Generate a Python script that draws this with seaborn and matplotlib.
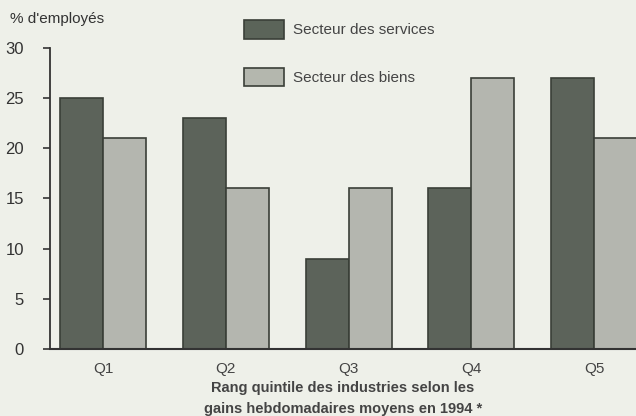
import pandas as pd
import numpy as np
import seaborn as sns
import matplotlib.pyplot as plt
from matplotlib.patches import Patch

quintiles = ['Q1', 'Q2', 'Q3', 'Q4', 'Q5']
services = [25, 23, 9, 16, 27]
biens = [21, 16, 16, 27, 21]
series_names = ['Secteur des services', 'Secteur des biens']

df = pd.DataFrame({
    'Quintile': quintiles * 2,
    'Pct': services + biens,
    'Secteur': [series_names[0]] * 5 + [series_names[1]] * 5,
})

bg = '#eef0e9'
dark = '#5b6459'
light = '#b4b7ae'

sns.set_theme(style='white')
plt.rcParams['font.family'] = ['Liberation Sans', 'DejaVu Sans']

fig = plt.figure(figsize=(6.36, 4.16), dpi=100, facecolor=bg)
ax = fig.add_axes([0.079, 0.161, 0.921, 0.724])
ax.set_facecolor(bg)

sns.barplot(data=df, x='Quintile', y='Pct', hue='Secteur', palette=[dark, light],
            width=0.7, edgecolor='#3a3f38', linewidth=1.2, legend=False, ax=ax)

ax.set_ylim(0, 30)
ax.set_xlim(-0.43, 4.34)
ax.set_yticks(range(0, 31, 5))
ax.tick_params(axis='y', length=5, width=1.2, color='#333333', labelsize=12,
               labelcolor='#333333', left=True, pad=14)
ax.tick_params(axis='x', length=0, labelsize=11, labelcolor='#444444', pad=9)
for s in ['top', 'right']:
    ax.spines[s].set_visible(False)
ax.spines['left'].set_color('#333333')
ax.spines['bottom'].set_color('#333333')
ax.spines['left'].set_linewidth(1.3)
ax.spines['bottom'].set_linewidth(1.5)
ax.set_ylabel('')
ax.set_xlabel('Rang quintile des industries selon les\ngains hebdomadaires moyens en 1994 *',
              fontsize=10.5, fontweight='bold', color='#444444', linespacing=1.6, labelpad=4)

fig.text(0.016, 0.945, "% d'employés", fontsize=11, color='#333333')

handles = [Patch(facecolor=dark, edgecolor='#3a3f38', linewidth=1.2),
           Patch(facecolor=light, edgecolor='#3a3f38', linewidth=1.2)]
leg = fig.legend(handles, series_names, loc='upper left', bbox_to_anchor=(0.362, 0.985),
                 frameon=False, fontsize=11, handlelength=2.6, handleheight=1.5,
                 labelspacing=1.9, handletextpad=0.6)
for t in leg.get_texts():
    t.set_color('#444444')

fig.savefig('out.png', dpi=100, facecolor=bg)
